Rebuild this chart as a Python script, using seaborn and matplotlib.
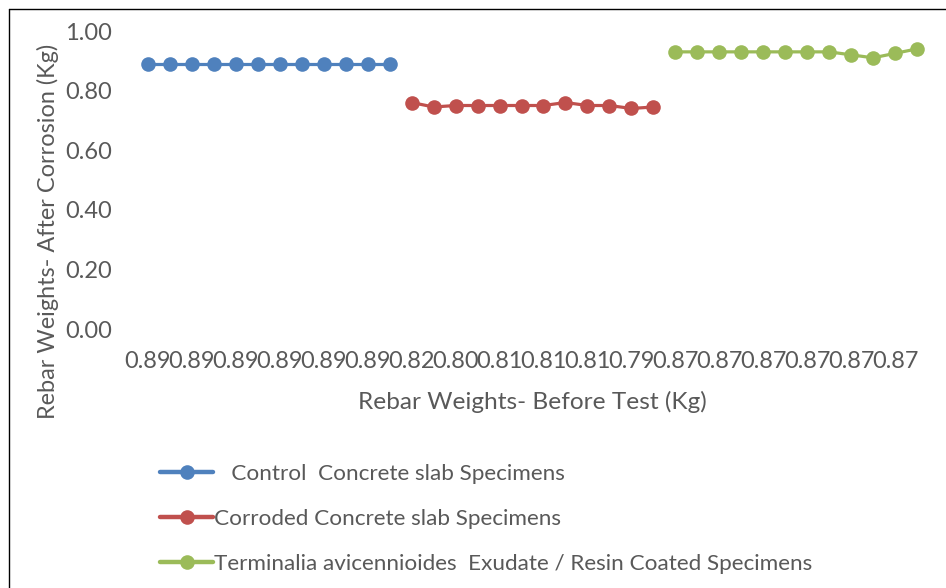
import numpy as np
import pandas as pd
import matplotlib
matplotlib.use("Agg")
import matplotlib.pyplot as plt
from matplotlib.lines import Line2D
import seaborn as sns

# Rebar weights after corrosion (Kg), twelve specimens per group
control_after = [0.89, 0.89, 0.89, 0.89, 0.89, 0.89, 0.89, 0.89, 0.89, 0.89, 0.89, 0.89]
corroded_after = [0.76, 0.745, 0.75, 0.75, 0.75, 0.75, 0.75, 0.76, 0.75, 0.75, 0.74, 0.745]
coated_after = [0.93, 0.93, 0.93, 0.93, 0.93, 0.93, 0.93, 0.93, 0.92, 0.91, 0.925, 0.94]

# Rebar weights before test (Kg), labelled on every second specimen
before_labels = ["0.89", "0.89", "0.89", "0.89", "0.89", "0.89",
                 "0.82", "0.80", "0.81", "0.81", "0.81", "0.79",
                 "0.87", "0.87", "0.87", "0.87", "0.87", "0.87"]

series_names = ["   Control  Concrete slab Specimens",
                "Corroded Concrete slab Specimens",
                "Terminalia avicennioides  Exudate / Resin Coated Specimens"]
colors = ["#4F81BD", "#C0504D", "#9BBB59"]

groups = [control_after, corroded_after, coated_after]
rows = []
pos = 0
for name, vals in zip(series_names, groups):
    for v in vals:
        rows.append({"specimen": pos, "after": v, "group": name})
        pos += 1
df = pd.DataFrame(rows)

sns.set_style("white")
plt.rcParams["font.family"] = ["Lato", "DejaVu Sans"]
text_color = "#595959"

W, H = 946, 588
fig = plt.figure(figsize=(W / 100, H / 100), dpi=100)
ax = fig.add_axes([137 / W, 1 - 329 / H, 791 / W, 298 / H])

sns.lineplot(data=df, x="specimen", y="after", hue="group",
             palette=dict(zip(series_names, colors)), marker="o",
             markersize=10.5, markeredgewidth=0, linewidth=2.3,
             legend=False, ax=ax)

ax.set_xlim(-0.5, pos - 0.5)
ax.set_ylim(0, 1.0)
ax.set_yticks(np.arange(0, 1.01, 0.2))
ax.set_yticklabels([f"{t:.2f}" for t in np.arange(0, 1.01, 0.2)])
ax.set_xticks(np.arange(0, pos, 2))
ax.set_xticklabels(before_labels)
for s in ax.spines.values():
    s.set_visible(False)
ax.tick_params(axis="x", length=0, pad=16, labelsize=16.9, labelcolor=text_color)
ax.tick_params(axis="y", length=0, pad=18, labelsize=17, labelcolor=text_color)
ax.set_xlabel("")
ax.set_ylabel("")
ax.grid(False)

fig.text(532 / W, 1 - 402 / H, "Rebar Weights- Before Test (Kg)",
         ha="center", va="center", fontsize=17.6, color=text_color)
fig.text(48 / W, 1 - 231 / H, "Rebar Weights- After Corrosion (Kg)",
         ha="center", va="center", rotation=90, fontsize=16.9, color=text_color)

handles = [Line2D([], [], color=c, marker="o", markersize=10.5,
                  markeredgewidth=0, linewidth=3.2) for c in colors]
fig.legend(handles, series_names, loc="upper left",
           bbox_to_anchor=(149 / W, 1 - 453 / H), frameon=False,
           fontsize=16.2, labelcolor=text_color, handlelength=2.35,
           handletextpad=0.05, labelspacing=1.1, borderpad=0, numpoints=1)

# chart frame along the top and left edges
fig.add_artist(Line2D([9 / W, 1.0], [1 - 9 / H, 1 - 9 / H], color="black",
                      linewidth=1.0, transform=fig.transFigure))
fig.add_artist(Line2D([9 / W, 9 / W], [0, 1 - 9 / H], color="black",
                      linewidth=1.0, transform=fig.transFigure))

fig.savefig("out.png", dpi=100)
